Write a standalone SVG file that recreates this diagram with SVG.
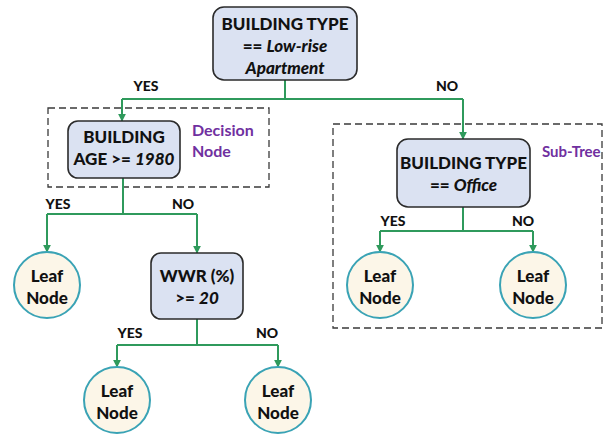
<svg xmlns="http://www.w3.org/2000/svg" width="604" height="435" viewBox="0 0 604 435">
<style>
  .dec { fill: #dbe2f2; stroke: #2b2b2b; stroke-width: 1.6; }
  .leaf { fill: #fcf6e8; stroke: #3aa3b5; stroke-width: 2; }
  .grp { fill: none; stroke: #3a3a3a; stroke-width: 1.3; stroke-dasharray: 7 4; }
  .t { font-family: Lato, "Liberation Sans", sans-serif; font-weight: 900; font-size: 17px; fill: #111; text-anchor: middle; }
  .lbl { font-family: Lato, "Liberation Sans", sans-serif; font-weight: 900; font-size: 14px; fill: #111; text-anchor: middle; }
  .note { font-family: Lato, "Liberation Sans", sans-serif; font-weight: bold; font-size: 16px; fill: #7030a0; }
  .conn { fill: none; stroke: #2f9a5c; stroke-width: 2; }
  .it { font-style: italic; }
</style>
<defs>
  <marker id="ah" viewBox="0 0 10 10" refX="9" refY="5" markerWidth="4" markerHeight="4" orient="auto" markerUnits="strokeWidth">
    <path d="M0,0 L10,5 L0,10 z" fill="#2f9a5c"/>
  </marker>
</defs>

<g id="groups">
  <rect id="decision-group" class="grp" x="48" y="108" width="221" height="79"/>
  <text class="note" x="192" y="136">Decision</text>
  <text class="note" x="192" y="157">Node</text>
  <rect id="subtree-group" class="grp" x="333" y="124" width="269" height="204"/>
  <text class="note" x="542" y="157" style="font-size:15px">Sub-Tree</text>
</g>

<g id="connectors">
  <path class="conn" d="M285,80 V99"/>
  <path class="conn" d="M122,99 H463"/>
  <path class="conn" d="M122,99 V121" marker-end="url(#ah)"/>
  <path class="conn" d="M463,99 V139" marker-end="url(#ah)"/>
  <path class="conn" d="M123,178 V214"/>
  <path class="conn" d="M47,214 H197"/>
  <path class="conn" d="M47,214 V252" marker-end="url(#ah)"/>
  <path class="conn" d="M197,214 V253" marker-end="url(#ah)"/>
  <path class="conn" d="M197,319 V345"/>
  <path class="conn" d="M117,345 H278"/>
  <path class="conn" d="M117,345 V367" marker-end="url(#ah)"/>
  <path class="conn" d="M278,345 V367" marker-end="url(#ah)"/>
  <path class="conn" d="M463,207 V231"/>
  <path class="conn" d="M380,231 H533"/>
  <path class="conn" d="M380,231 V252" marker-end="url(#ah)"/>
  <path class="conn" d="M533,231 V252" marker-end="url(#ah)"/>
  <text class="lbl" x="146" y="91">YES</text>
  <text class="lbl" x="447" y="91">NO</text>
  <text class="lbl" x="58" y="209">YES</text>
  <text class="lbl" x="183" y="209">NO</text>
  <text class="lbl" x="130" y="338">YES</text>
  <text class="lbl" x="267" y="338">NO</text>
  <text class="lbl" x="393" y="226">YES</text>
  <text class="lbl" x="523" y="226">NO</text>
</g>

<g id="root">
  <rect class="dec" x="213" y="7" width="144" height="73" rx="11"/>
  <text class="t" x="285" y="30">BUILDING TYPE</text>
  <text class="t" x="285" y="52">== <tspan class="it">Low-rise</tspan></text>
  <text class="t" x="285" y="74"><tspan class="it">Apartment</tspan></text>
</g>

<g id="age">
  <rect class="dec" x="68" y="121" width="112" height="57" rx="10"/>
  <text class="t" x="124" y="143">BUILDING</text>
  <text class="t" x="124" y="165">AGE &gt;= <tspan class="it">1980</tspan></text>
</g>

<g id="office">
  <rect class="dec" x="397" y="139" width="133" height="68" rx="11"/>
  <text class="t" x="463.5" y="169">BUILDING TYPE</text>
  <text class="t" x="463.5" y="191">== <tspan class="it">Office</tspan></text>
</g>

<g id="wwr">
  <rect class="dec" x="151" y="253" width="92" height="66" rx="10"/>
  <text class="t" x="197" y="282">WWR (%)</text>
  <text class="t" x="197" y="304">&gt;= <tspan class="it">20</tspan></text>
</g>

<g id="leaf1">
  <circle class="leaf" cx="47" cy="285" r="33"/>
  <text class="t" x="47" y="282">Leaf</text>
  <text class="t" x="47" y="304">Node</text>
</g>
<g id="leaf2">
  <circle class="leaf" cx="117" cy="400" r="33"/>
  <text class="t" x="117" y="397">Leaf</text>
  <text class="t" x="117" y="419">Node</text>
</g>
<g id="leaf3">
  <circle class="leaf" cx="278" cy="400" r="33"/>
  <text class="t" x="278" y="397">Leaf</text>
  <text class="t" x="278" y="419">Node</text>
</g>
<g id="leaf4">
  <circle class="leaf" cx="380" cy="285" r="33"/>
  <text class="t" x="380" y="282">Leaf</text>
  <text class="t" x="380" y="304">Node</text>
</g>
<g id="leaf5">
  <circle class="leaf" cx="533" cy="285" r="33"/>
  <text class="t" x="533" y="282">Leaf</text>
  <text class="t" x="533" y="304">Node</text>
</g>
</svg>
